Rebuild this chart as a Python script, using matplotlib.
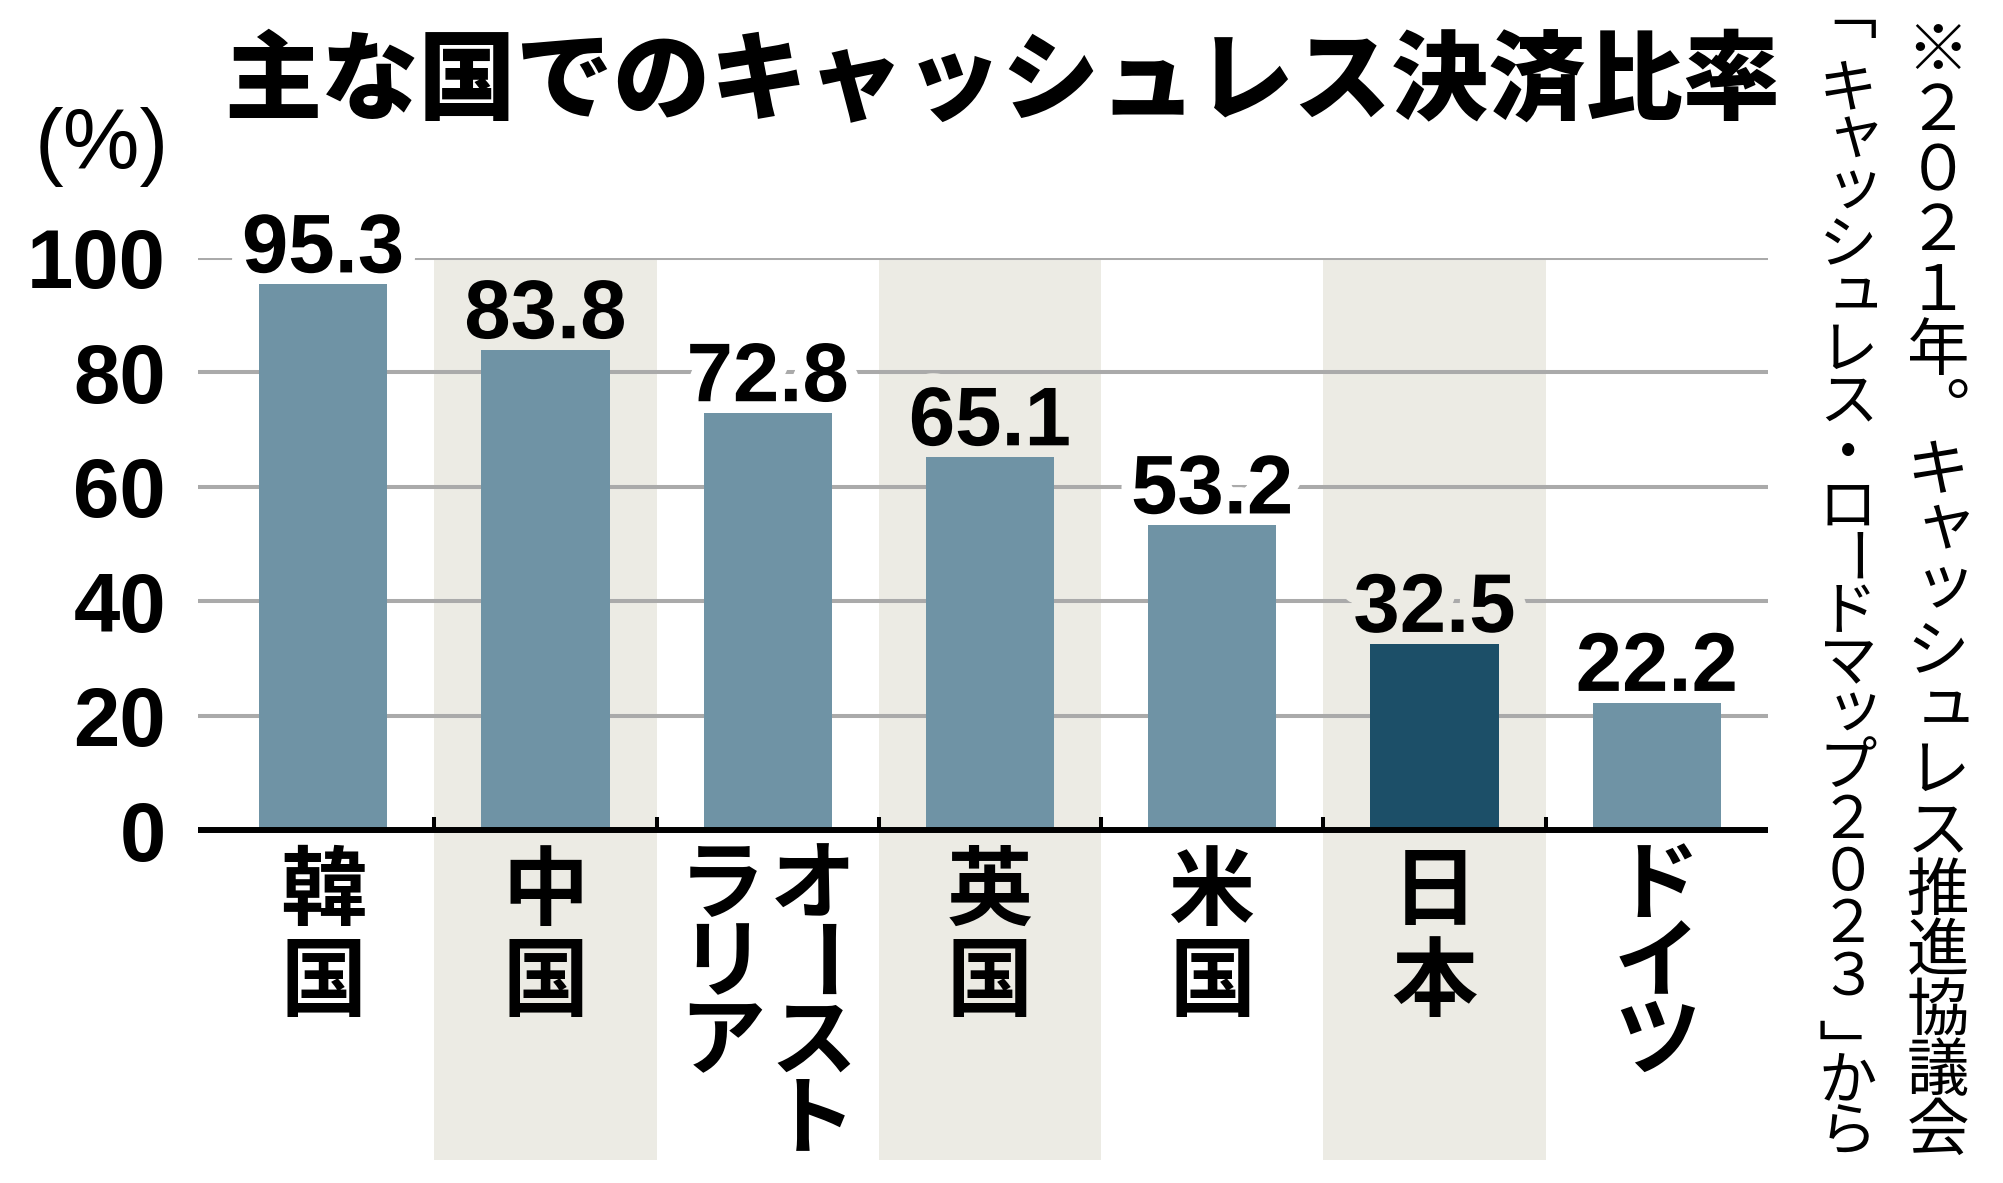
import numpy as np
import matplotlib.pyplot as plt
import matplotlib.patheffects as pe

# data
categories = ['韓国', '中国', 'オーストラリア', '英国', '米国', '日本', 'ドイツ']
values = [95.3, 83.8, 72.8, 65.1, 53.2, 32.5, 22.2]
highlight = '日本'
yticks = [0, 20, 40, 60, 80, 100]
title = '主な国でのキャッシュレス決済比率'
unit = '(%)'
note_right = '※２０２１年︒キャッシュレス推進協議会'
note_left = '﹁キャッシュレス・ロードマップ２０２３﹂から'

BAR = '#6f93a5'
BAR_HI = '#1c4f68'
BAND = '#ecebe4'
GRID = '#aaaaaa'
CJK = ['Noto Sans CJK JP', 'DejaVu Sans']
NUM = 'Liberation Sans'

plt.rcParams['font.family'] = CJK

W, H = 2003, 1183
fig = plt.figure(figsize=(W / 100, H / 100), dpi=100)

# axes placed so that the zero line and gridlines land where the reference has them
ybot = -57.6
ax = fig.add_axes([198 / W, 1 - 1159.8 / H, 1570 / W, (1159.8 - 257.5) / H])
ax.set_xlim(-0.563, len(categories) - 0.5)
ax.set_ylim(ybot, 100)
for s in ax.spines.values():
    s.set_visible(False)

x = np.arange(len(categories))

# shaded bands behind every second country
for i in x:
    if i % 2 == 1:
        ax.bar(i, 100 - ybot, bottom=ybot, width=1.0, color=BAND, zorder=0)

for t in yticks[1:]:
    ax.axhline(t, color=GRID, lw=2.9, zorder=1)
ax.axhline(0, color='black', lw=4.3, zorder=6)
ax.vlines(x[:-1] + 0.5, 0, 2.2, color='black', lw=2.9, zorder=6)

colors = [BAR_HI if c == highlight else BAR for c in categories]
ax.bar(x, values, width=0.577, color=colors, zorder=5)

# value labels; a halo in the slot colour hides the gridline behind the digits
for i, v in enumerate(values):
    bg = BAND if i % 2 == 1 else 'white'
    ax.annotate(f'{v:.1f}', xy=(i, v), xytext=(0, 12), textcoords='offset pixels',
                ha='center', va='baseline', fontsize=60, fontweight='bold', family=NUM,
                path_effects=[pe.withStroke(linewidth=20, foreground=bg)],
                zorder=4, annotation_clip=False)

ax.set_xticks([])
ax.set_yticks(yticks)
ax.set_yticklabels([str(t) for t in yticks], fontsize=60, fontweight='bold', family=NUM)
ax.tick_params(axis='y', length=0, pad=23)

# vertical category labels, columns read right to left
KANJI = set('韓国中英米日本')
for i, name in enumerate(categories):
    cols = [name[k:k + 4] for k in range(0, len(name), 4)]
    kana = any(ch not in KANJI for ch in name)
    pitch = 78 if kana else 91
    start = 57 if kana else 63
    for c, col in enumerate(cols):
        dx = (len(cols) - 1) / 2 * 91 - c * 91
        for j, ch in enumerate(col):
            ax.annotate(ch, xy=(i, 0), xytext=(dx, -(start + j * pitch)),
                        textcoords='offset pixels', ha='center', va='center',
                        fontsize=62, fontweight='bold', family=CJK,
                        rotation=-90 if ch == 'ー' else 0, rotation_mode='anchor',
                        annotation_clip=False)

# title and unit
fig.text(224 / W, 1 - 83 / H, title, fontsize=70, fontweight='black', family=CJK,
         ha='left', va='center')
fig.text(102 / W, 1 - 147 / H, unit, fontsize=62, family=NUM,
         ha='center', va='center')


# vertical source note on the right
def vertical_text(s, xc, y0, pitch, size):
    em = size * 100 / 72
    for j, ch in enumerate(s):
        dx, dy, rot = 0, 0, 0
        if ch in 'ャッュョァィゥェォ':
            dx, dy = 0.12 * em, -0.12 * em
        elif ch == 'ー':
            rot = -90
        elif ch == '﹁':
            dy = -0.36 * em
        elif ch == '﹂':
            dy = 0.4 * em
        yc = y0 + j * pitch + dy
        fig.text((xc + dx) / W, 1 - yc / H, ch, fontsize=size, family=CJK,
                 ha='center', va='center', rotation=rot, rotation_mode='anchor')


vertical_text(note_right, 1938, 52, 60, 45)
vertical_text(note_left, 1848, 38, 52.2, 42)

fig.savefig('out.png', dpi=100)
